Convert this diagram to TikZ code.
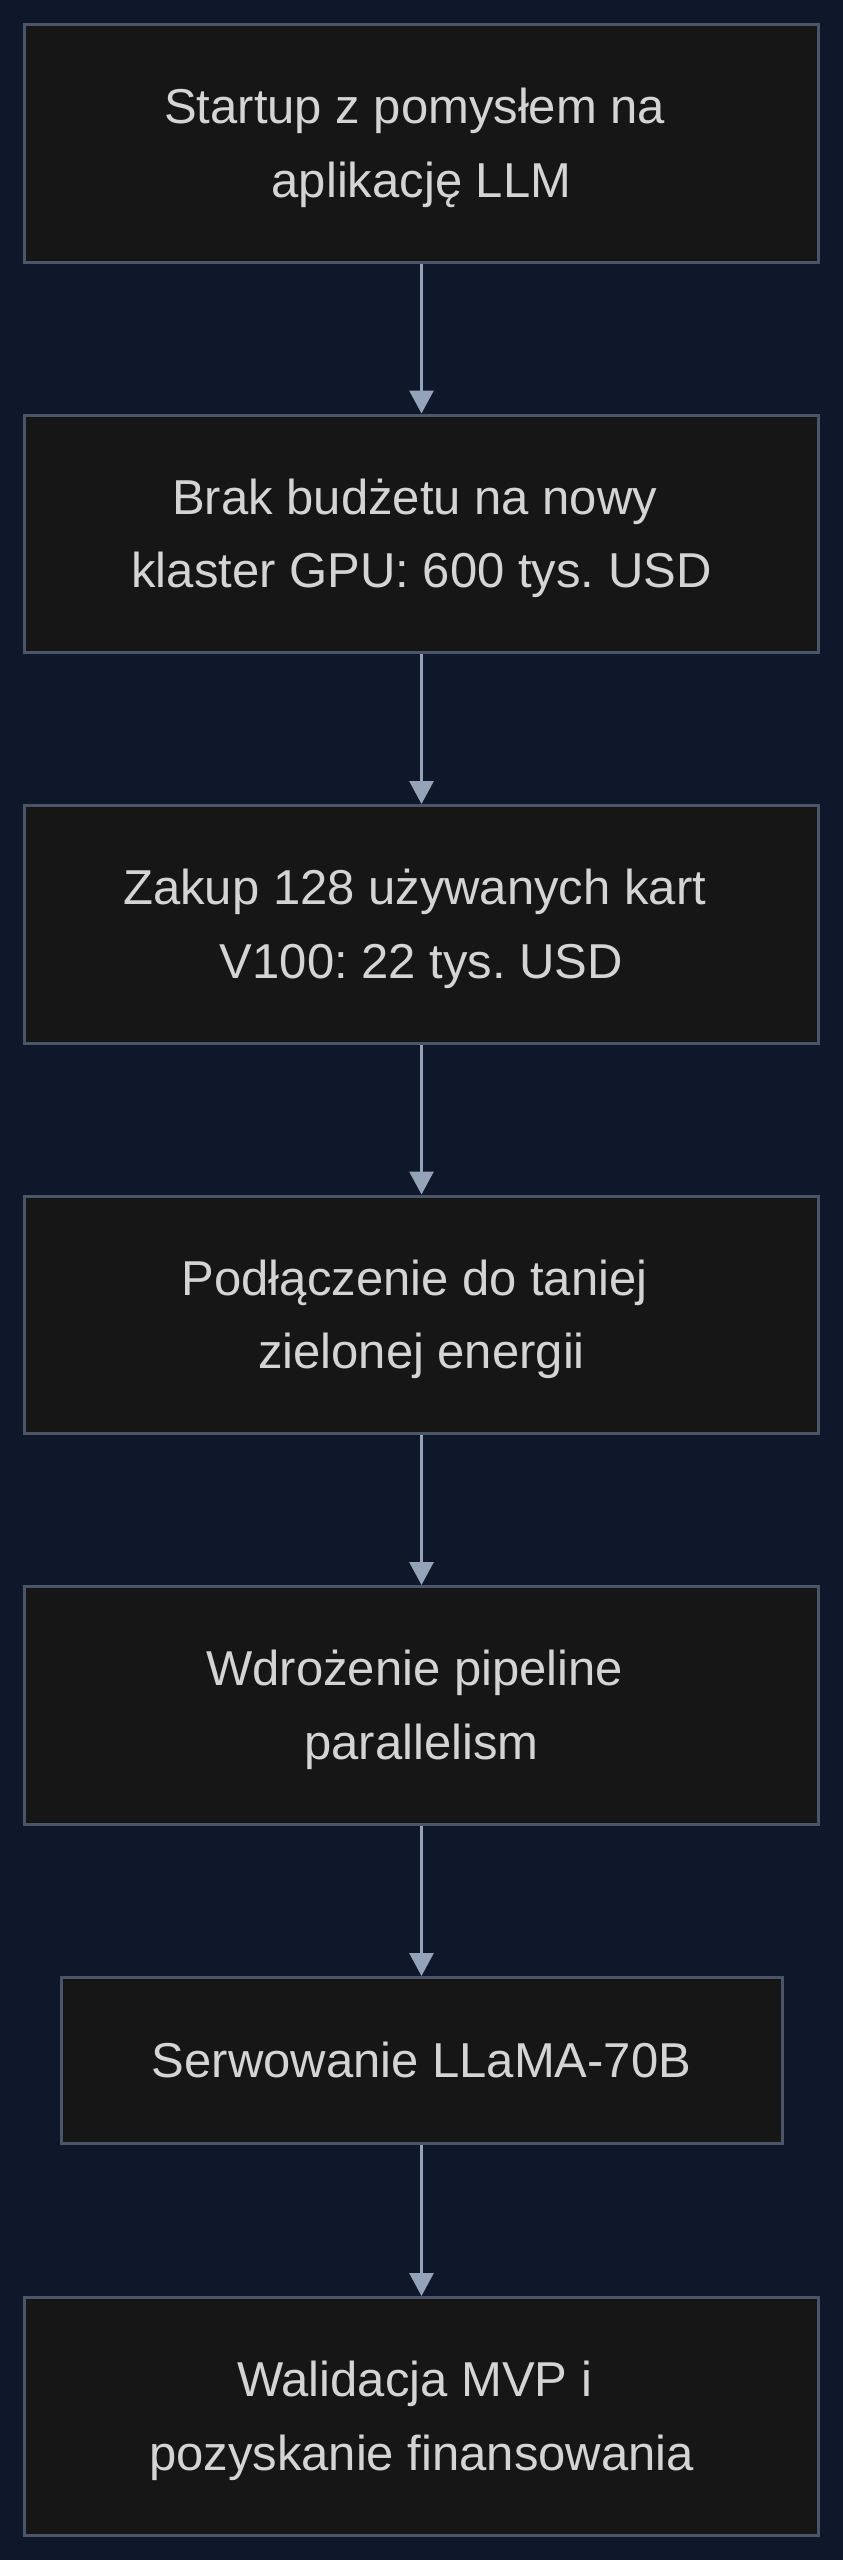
\documentclass[tikz,border=0pt]{standalone}
\usepackage{fontspec}
\setmainfont{Liberation Sans}
\usetikzlibrary{graphs}
\usetikzlibrary{arrows.meta}
\frenchspacing

\definecolor{bg}{HTML}{0F172A}
\definecolor{boxfill}{HTML}{161616}
\definecolor{boxline}{HTML}{4A5568}
\definecolor{arrowc}{HTML}{94A3B8}
\definecolor{txt}{HTML}{D4D4D4}

\newcommand{\ls}{\vrule height 53.75pt depth 19.75pt width 0pt}
\newcommand{\tsp}{\hspace*{.278em}}

\tikzset{
  stage/.style={draw=boxline, fill=boxfill, line width=3pt, text=txt,
    minimum width=794pt, minimum height=237.5pt, align=center,
    font=\fontsize{49}{73.5}\selectfont},
  flow/.style={draw=arrowc, line width=3pt}
}

\begin{document}
\begin{tikzpicture}[x=1pt, y=1pt, >={Triangle[length=23pt,width=24pt]}]
  \fill[bg] (0,0) rectangle (843,-2560);
  \node[stage] (start) at (421.5,-143.25) {\ls Startup z pomysłem na\tsp\\\ls aplikację LLM};
  \node[stage] (budget) at (421.5,-533.75) {\ls Brak budżetu na nowy\tsp\\\ls klaster GPU: 600 tys. USD};
  \node[stage] (purchase) at (421.5,-924.25) {\ls Zakup 128 używanych kart\tsp\\\ls V100: 22 tys. USD};
  \node[stage] (energy) at (421.5,-1314.75) {\ls Podłączenie do taniej\tsp\\\ls zielonej energii};
  \node[stage] (pipeline) at (421.5,-1705.25) {\ls Wdrożenie pipeline\tsp\\\ls parallelism};
  \node[stage, minimum width=721pt, minimum height=165.5pt] (serving) at (421.5,-2060.25) {\ls Serwowanie LLaMA-70B};
  \node[stage] (mvp) at (421.5,-2416.25) {\ls Walidacja MVP i\tsp\\\ls pozyskanie finansowania};
  \graph[edges={flow}]{(start) -> (budget)};
  \graph[edges={flow}]{(budget) -> (purchase)};
  \graph[edges={flow}]{(purchase) -> (energy)};
  \graph[edges={flow}]{(energy) -> (pipeline)};
  \graph[edges={flow}]{(pipeline) -> (serving)};
  \graph[edges={flow}]{(serving) -> (mvp)};
\end{tikzpicture}
\end{document}
